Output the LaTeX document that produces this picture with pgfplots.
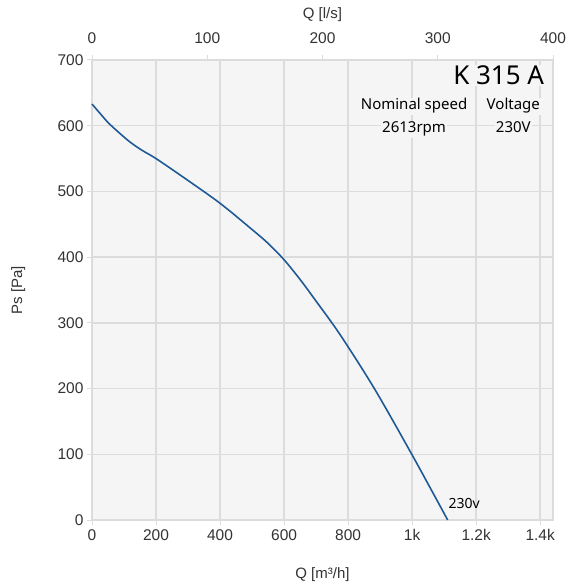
\documentclass[border=0pt]{standalone}
\usepackage{fontspec}
\setmainfont{Liberation Sans}
\newfontfamily\segoe{Noto Sans}
\usepackage{pgfplots}
\pgfplotsset{compat=1.18}
\definecolor{bgc}{HTML}{F5F5F5}
\definecolor{gridc}{HTML}{DCDCDC}
\definecolor{curvec}{HTML}{1F5A96}
\definecolor{txt}{HTML}{333333}
\begin{document}
\begin{tikzpicture}[x=1pt,y=1pt]
\path[use as bounding box] (-92,-65) rectangle (475,520);
\begin{axis}[
  at={(0,0)}, anchor=south west,
  scale only axis, width=461pt, height=460pt,
  xmin=0, xmax=1440, ymin=0, ymax=700,
  axis background/.style={fill=bgc},
  grid=major, grid style={gridc, line width=1.5pt},
  axis line style={gridc, line width=1.5pt},
  xtick={0,200,...,1400}, xticklabels={0,200,400,600,800,1k,1.2k,1.4k},
  ytick={0,100,...,700},
  xtick pos=bottom, ytick pos=left,
  tick style={gridc, line width=1pt}, tick align=outside, major tick length=5pt,
  /pgf/number format/assume math mode=true,
  ticklabel style={font=\fontsize{15.5}{17}\selectfont, text=txt},
  xticklabel style={yshift=-1pt},
  xlabel={Q [m³/h]}, ylabel={Ps [Pa]},
  label style={font=\fontsize{15}{17}\selectfont, text=txt},
  xlabel style={at={(axis description cs:0.5,0)}, yshift=-55pt, anchor=center},
  ylabel style={at={(axis description cs:-0.16,0.5)}, anchor=center},
  clip=false,
]
\addplot[curvec, line width=1.6pt, smooth] coordinates {
 (0,633) (30,616) (56,602) (114,577) (155,563) (200,550) (290,520) (400,482)
 (500,442) (550,421) (600,396) (650,366) (700,333) (775,282) (882,200) (1000,99) (1111,0)
};
\node[anchor=base west, font=\segoe\fontsize{14}{16}\selectfont, text=black] at (axis cs:1103,18) {230v};
\node[anchor=base east, fill=bgc, inner sep=1pt, font=\segoe\fontsize{26}{30}\selectfont, text=black] at (axis cs:1416,662) {K 315 A};
\node[anchor=base, fill=bgc, inner sep=1pt, font=\segoe\fontsize{15}{18}\selectfont, text=black] at (axis cs:1006,624) {Nominal speed};
\node[anchor=base, fill=bgc, inner sep=1pt, font=\segoe\fontsize{15}{18}\selectfont, text=black] at (axis cs:1006,589) {2613rpm};
\node[anchor=base, fill=bgc, inner sep=1pt, font=\segoe\fontsize{15}{18}\selectfont, text=black] at (axis cs:1316,624) {Voltage};
\node[anchor=base, fill=bgc, inner sep=1pt, font=\segoe\fontsize{15}{18}\selectfont, text=black] at (axis cs:1316,589) {230V};
\end{axis}
\begin{axis}[
  at={(0,0)}, anchor=south west,
  scale only axis, width=461pt, height=460pt,
  xmin=0, xmax=400, ymin=0, ymax=700,
  axis x line*=top, axis y line=none,
  axis line style={gridc, line width=1.5pt},
  xtick={0,100,...,400},
  tick style={gridc, line width=1pt}, tick align=outside, major tick length=5pt,
  /pgf/number format/assume math mode=true,
  ticklabel style={font=\fontsize{15.5}{17}\selectfont, text=txt},
  xticklabel style={yshift=8pt},
  xlabel={Q [l/s]},
  label style={font=\fontsize{15}{17}\selectfont, text=txt},
  xlabel style={at={(axis description cs:0.5,1)}, yshift=45pt, anchor=center},
]
\end{axis}
\end{tikzpicture}
\end{document}
